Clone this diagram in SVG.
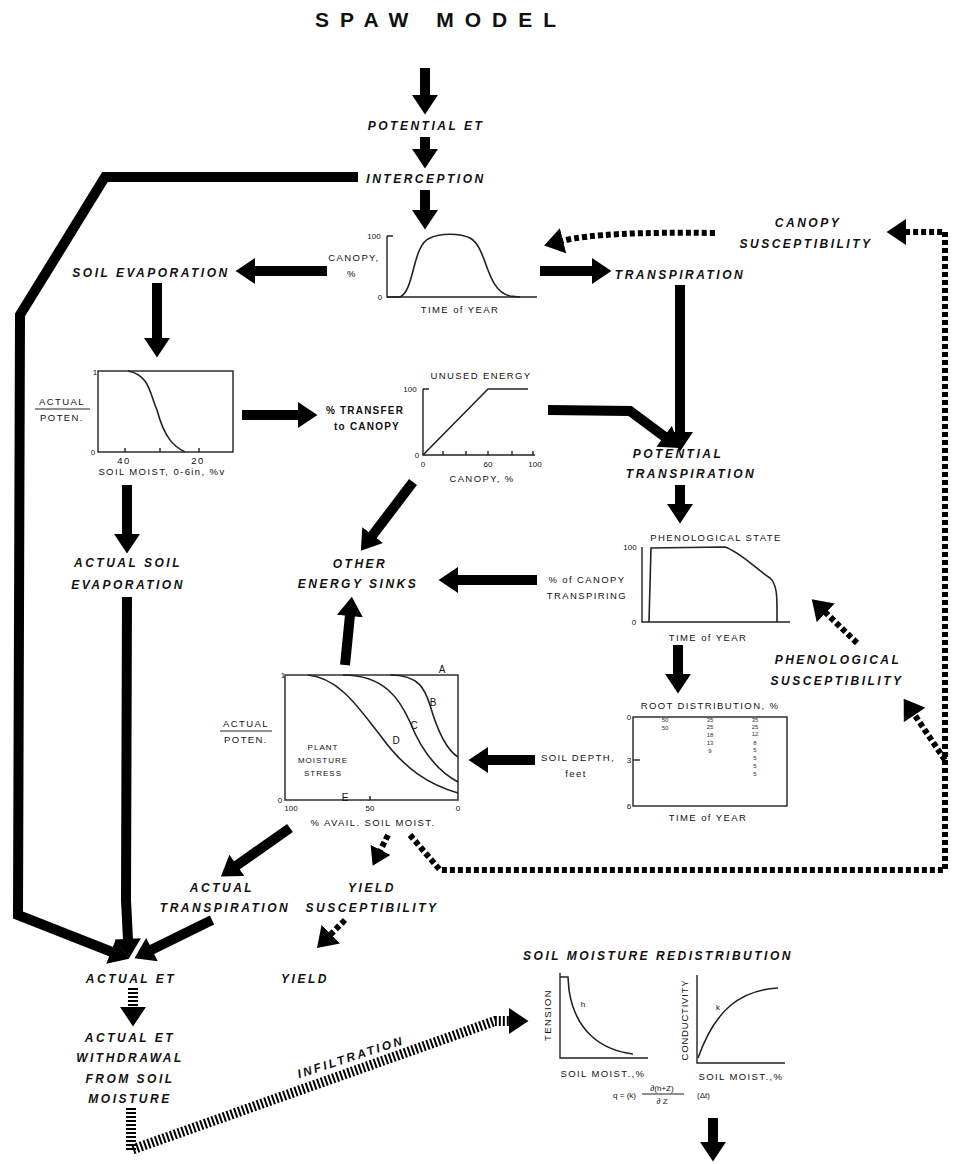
<svg xmlns="http://www.w3.org/2000/svg" width="956" height="1164" viewBox="0 0 956 1164">
<style>
.lab{font-family:"Liberation Sans",Arial,sans-serif;font-style:italic;font-weight:bold;font-size:12px;letter-spacing:2.5px;fill:#111;text-anchor:middle}
.sm{font-family:"Liberation Sans",Arial,sans-serif;font-size:9.5px;letter-spacing:1.4px;fill:#111;text-anchor:middle}
.num{font-family:"Liberation Sans",Arial,sans-serif;font-size:8px;fill:#111;text-anchor:middle}
.tiny{font-family:"Liberation Sans",Arial,sans-serif;font-size:6px;fill:#333;text-anchor:middle}
.ax{fill:none;stroke:#222;stroke-width:1.4}
.cv{fill:none;stroke:#222;stroke-width:1.6}
.thick{fill:none;stroke:#000;stroke-width:10;stroke-linejoin:miter}
.dash{fill:none;stroke:#000;stroke-width:6;stroke-dasharray:5 3}
.hatch{fill:none;stroke:#000;stroke-width:10;stroke-dasharray:2 2}
</style>
<defs>
<marker id="ah" markerUnits="userSpaceOnUse" markerWidth="20" markerHeight="26" viewBox="0 0 18 24" refX="1" refY="12" orient="auto"><path d="M0,0 L18,12 L0,24 z" fill="#000"/></marker>
<marker id="ahs" markerUnits="userSpaceOnUse" markerWidth="18" markerHeight="22" viewBox="0 0 16 20" refX="1" refY="10" orient="auto"><path d="M0,0 L16,10 L0,20 z" fill="#000"/></marker>
</defs>
<rect width="956" height="1164" fill="#fff"/>

<text x="441" y="27" style="font-family:'Liberation Sans',Arial,sans-serif;font-weight:bold;font-size:21px;letter-spacing:11px;fill:#111;text-anchor:middle">SPAW MODEL</text>

<g id="connectors">
<path class="thick" d="M425,68 L425,96" marker-end="url(#ah)"/>
<path class="thick" d="M425,137 L425,150" marker-end="url(#ah)"/>
<path class="thick" d="M425,190 L425,211" marker-end="url(#ah)"/>
<path class="thick" d="M327,271 L254,271" marker-end="url(#ah)"/>
<path class="thick" d="M540,271 L593,271" marker-end="url(#ah)"/>
<path class="thick" d="M157,283 L157,339" marker-end="url(#ah)"/>
<path class="thick" d="M242,415 L299,415" marker-end="url(#ah)"/>
<path class="thick" d="M680,285 L680,433" marker-end="url(#ah)"/>
<path class="thick" d="M548,410 L630,411 L665,437" marker-end="url(#ah)"/>
<path class="thick" d="M680,485 L680,505" marker-end="url(#ah)"/>
<path class="thick" d="M413,482 L372,536" marker-end="url(#ah)"/>
<path class="thick" d="M537,580 L457,580" marker-end="url(#ah)"/>
<path class="thick" d="M678,645 L678,675" marker-end="url(#ah)"/>
<path class="thick" d="M535,760 L487,760" marker-end="url(#ah)"/>
<path class="thick" d="M345,665 L350,615" marker-end="url(#ah)"/>
<path class="thick" d="M290,828 L236,866" marker-end="url(#ah)"/>
<path class="thick" d="M127,485 L127,535" marker-end="url(#ah)"/>
<path class="thick" d="M127,597 L126,900 L128,940" marker-end="url(#ah)"/>
<path class="thick" d="M358,177 L105,177 L20,315 L18,915 L112,952" marker-end="url(#ah)"/>
<path class="thick" d="M212,920 L151,950" marker-end="url(#ah)"/>
<path class="hatch" d="M133,988 L133,1008" marker-end="url(#ah)"/>
<path class="hatch" d="M131,1108 L131,1150 L495,1021 L510,1021" marker-end="url(#ah)"/>
<path class="thick" d="M713,1118 L713,1143" marker-end="url(#ah)"/>
<path class="dash" d="M410,835 L440,870 L945,870 L945,232 L905,232" marker-end="url(#ah)"/>
<path class="dash" d="M945,760 L914,714" marker-end="url(#ah)"/>
<path class="dash" d="M857,643 L825,612" marker-end="url(#ah)"/>
<path class="dash" d="M715,233 C640,232 590,234 562,241" marker-end="url(#ah)"/>
<path class="dash" d="M388,835 L380,851" marker-end="url(#ahs)"/>
<path class="dash" d="M345,920 L330,935" marker-end="url(#ah)"/>
</g>

<g id="potential-et"><text class="lab" x="426" y="130">POTENTIAL ET</text></g>
<g id="interception"><text class="lab" x="426" y="183">INTERCEPTION</text></g>
<g id="soil-evaporation"><text class="lab" x="151" y="277">SOIL EVAPORATION</text></g>
<g id="transpiration"><text class="lab" x="680" y="279">TRANSPIRATION</text></g>
<g id="canopy-susceptibility"><text class="lab" x="808" y="227">CANOPY</text><text class="lab" x="806" y="248">SUSCEPTIBILITY</text></g>

<g id="canopy-chart">
<path class="ax" d="M387,236 L387,297 L537,297 M387,236 L393,236"/>
<path class="cv" d="M387,297 L400,297 C415,290 412,245 430,238 C440,233 460,233 470,238 C488,248 485,290 510,296 L520,297"/>
<text class="num" x="374" y="239">100</text>
<text class="num" x="380" y="300">0</text>
<text class="sm" x="354" y="261">CANOPY,</text>
<text class="sm" x="352" y="277">%</text>
<text class="sm" x="460" y="313">TIME of YEAR</text>
</g>

<g id="soil-evap-chart">
<rect x="98" y="371" width="135" height="81" class="ax"/>
<path class="ax" d="M125,452 L125,448 M160,452 L160,448 M199,452 L199,448"/>
<path class="cv" d="M128,371 C150,375 150,395 157,410 C165,440 175,447 185,452"/>
<text class="num" x="95" y="375">1</text>
<text class="num" x="93" y="455">0</text>
<text class="sm" x="124" y="464">40</text>
<text class="sm" x="198" y="464">20</text>
<text class="sm" x="62" y="405">ACTUAL</text>
<path d="M35,409 L90,409" stroke="#222" stroke-width="1"/>
<text class="sm" x="62" y="421">POTEN.</text>
<text class="sm" x="162" y="475">SOIL MOIST, 0-6in, %v</text>
</g>

<g id="transfer-to-canopy"><text class="lab" style="font-size:10px;letter-spacing:1.2px;font-style:normal" x="365" y="414">% TRANSFER</text><text class="lab" style="font-size:10px;letter-spacing:1.2px;font-style:normal" x="367" y="430">to CANOPY</text></g>

<g id="unused-energy-chart">
<path class="ax" d="M423,389 L423,455 L535,455 M423,389 L429,389 M443,455 L443,451 M466,455 L466,451 M488,455 L488,451 M512,455 L512,451 M533,455 L533,451"/>
<path class="cv" d="M423,455 L488,389 L528,389"/>
<text class="sm" x="481" y="379">UNUSED ENERGY</text>
<text class="num" x="410" y="392">100</text>
<text class="num" x="417" y="458">0</text>
<text class="num" x="423" y="467">0</text>
<text class="num" x="488" y="467">60</text>
<text class="num" x="535" y="467">100</text>
<text class="sm" x="482" y="482">CANOPY, %</text>
</g>

<g id="potential-transpiration"><text class="lab" x="678" y="458">POTENTIAL</text><text class="lab" x="691" y="478">TRANSPIRATION</text></g>
<g id="other-energy-sinks"><text class="lab" x="360" y="568">OTHER</text><text class="lab" x="358" y="588">ENERGY SINKS</text></g>
<g id="actual-soil-evaporation"><text class="lab" x="128" y="567">ACTUAL SOIL</text><text class="lab" x="128" y="589">EVAPORATION</text></g>

<g id="phenological-chart">
<text class="sm" x="587" y="583">% of CANOPY</text>
<text class="sm" x="587" y="599">TRANSPIRING</text>
<path class="ax" d="M642,547 L642,622 L790,622"/>
<path class="cv" d="M649,622 L651,548 L725,547 C740,552 755,568 770,578 C778,585 777,600 777,622"/>
<text class="sm" x="716" y="541">PHENOLOGICAL STATE</text>
<text class="num" x="630" y="550">100</text>
<text class="num" x="634" y="625">0</text>
<text class="sm" x="708" y="641">TIME of YEAR</text>
</g>

<g id="phenological-susceptibility"><text class="lab" x="838" y="664">PHENOLOGICAL</text><text class="lab" x="837" y="685">SUSCEPTIBILITY</text></g>

<g id="root-distribution-chart">
<text class="sm" x="578" y="761">SOIL DEPTH,</text>
<text class="sm" x="576" y="777">feet</text>
<text class="sm" x="710" y="709">ROOT DISTRIBUTION, %</text>
<rect x="633" y="717" width="154" height="89" class="ax"/>
<path class="ax" d="M633,760 L640,760"/>
<text class="num" x="629" y="720">0</text>
<text class="num" x="629" y="763">3</text>
<text class="num" x="629" y="809">6</text>
<text class="sm" x="708" y="821">TIME of YEAR</text>
<text class="tiny" x="665" y="722">50</text><text class="tiny" x="665" y="730">50</text>
<text class="tiny" x="710" y="722">35</text><text class="tiny" x="710" y="729">25</text><text class="tiny" x="710" y="737">18</text><text class="tiny" x="710" y="745">13</text><text class="tiny" x="710" y="753">9</text>
<text class="tiny" x="755" y="722">35</text><text class="tiny" x="755" y="729">25</text><text class="tiny" x="755" y="736">12</text><text class="tiny" x="755" y="745">8</text><text class="tiny" x="755" y="752">5</text><text class="tiny" x="755" y="760">5</text><text class="tiny" x="755" y="768">5</text><text class="tiny" x="755" y="776">5</text>
</g>

<g id="plant-moisture-stress-chart">
<rect x="285" y="675" width="173" height="125" class="ax"/>
<path class="ax" d="M370,800 L370,796"/>
<path class="cv" d="M390,675 C420,675 425,690 430,705 C440,740 450,752 458,757"/>
<path class="cv" d="M343,675 C385,675 400,700 410,722 C425,760 445,775 458,782"/>
<path class="cv" d="M308,675 C340,678 360,710 380,735 C405,770 430,785 458,793"/>
<text class="num" style="font-size:10px" x="442" y="673">A</text>
<text class="num" style="font-size:10px" x="433" y="706">B</text>
<text class="num" style="font-size:10px" x="414" y="729">C</text>
<text class="num" style="font-size:10px" x="396" y="744">D</text>
<text class="num" style="font-size:10px" x="345" y="801">E</text>
<text class="num" x="283" y="678">1</text>
<text class="num" x="280" y="803">0</text>
<text class="num" x="291" y="811">100</text>
<text class="num" x="370" y="811">50</text>
<text class="num" x="458" y="811">0</text>
<text class="num" style="letter-spacing:1px" x="323" y="750">PLANT</text>
<text class="num" style="letter-spacing:1px" x="323" y="763">MOISTURE</text>
<text class="num" style="letter-spacing:1px" x="323" y="776">STRESS</text>
<text class="sm" x="246" y="727">ACTUAL</text>
<path d="M220,731 L272,731" stroke="#222" stroke-width="1"/>
<text class="sm" x="246" y="743">POTEN.</text>
<text class="sm" x="373" y="826">% AVAIL. SOIL MOIST.</text>
</g>

<g id="actual-transpiration"><text class="lab" x="222" y="892">ACTUAL</text><text class="lab" x="225" y="912">TRANSPIRATION</text></g>
<g id="yield-susceptibility"><text class="lab" x="372" y="892">YIELD</text><text class="lab" x="372" y="912">SUSCEPTIBILITY</text></g>
<g id="actual-et"><text class="lab" x="131" y="983">ACTUAL ET</text></g>
<g id="yield"><text class="lab" x="305" y="983">YIELD</text></g>
<g id="actual-et-withdrawal"><text class="lab" x="130" y="1042">ACTUAL ET</text><text class="lab" x="130" y="1062">WITHDRAWAL</text><text class="lab" x="130" y="1083">FROM SOIL</text><text class="lab" x="130" y="1103">MOISTURE</text></g>
<g id="infiltration"><text class="lab" x="352" y="1061" transform="rotate(-18 352 1061)">INFILTRATION</text></g>

<g id="soil-moisture-redistribution">
<text class="lab" x="658" y="960">SOIL MOISTURE REDISTRIBUTION</text>
<path class="ax" d="M560,973 L560,1058 L648,1058"/>
<path class="cv" d="M560,977 L568,977 L569,990 C575,1030 600,1050 633,1054"/>
<text class="sm" x="551" y="1015" transform="rotate(-90 551 1015)">TENSION</text>
<text class="num" x="583" y="1007">h</text>
<text class="sm" x="603" y="1077">SOIL MOIST.,%</text>
<path class="ax" d="M697,975 L697,1063 L785,1063"/>
<path class="cv" d="M698,1058 C715,1010 740,990 778,988"/>
<text class="sm" style="letter-spacing:0.8px" x="688" y="1020" transform="rotate(-90 688 1020)">CONDUCTIVITY</text>
<text class="num" x="718" y="1010">k</text>
<text class="sm" x="741" y="1080">SOIL MOIST.,%</text>
<text class="num" style="text-anchor:end" x="636" y="1098">q = (k)</text>
<text class="num" x="662" y="1091">∂(h+Z)</text>
<path d="M642,1094 L684,1094" stroke="#222" stroke-width="1"/>
<text class="num" x="662" y="1104">∂ Z</text>
<text class="num" style="text-anchor:start" x="697" y="1098">(Δt)</text>
</g>
</svg>
